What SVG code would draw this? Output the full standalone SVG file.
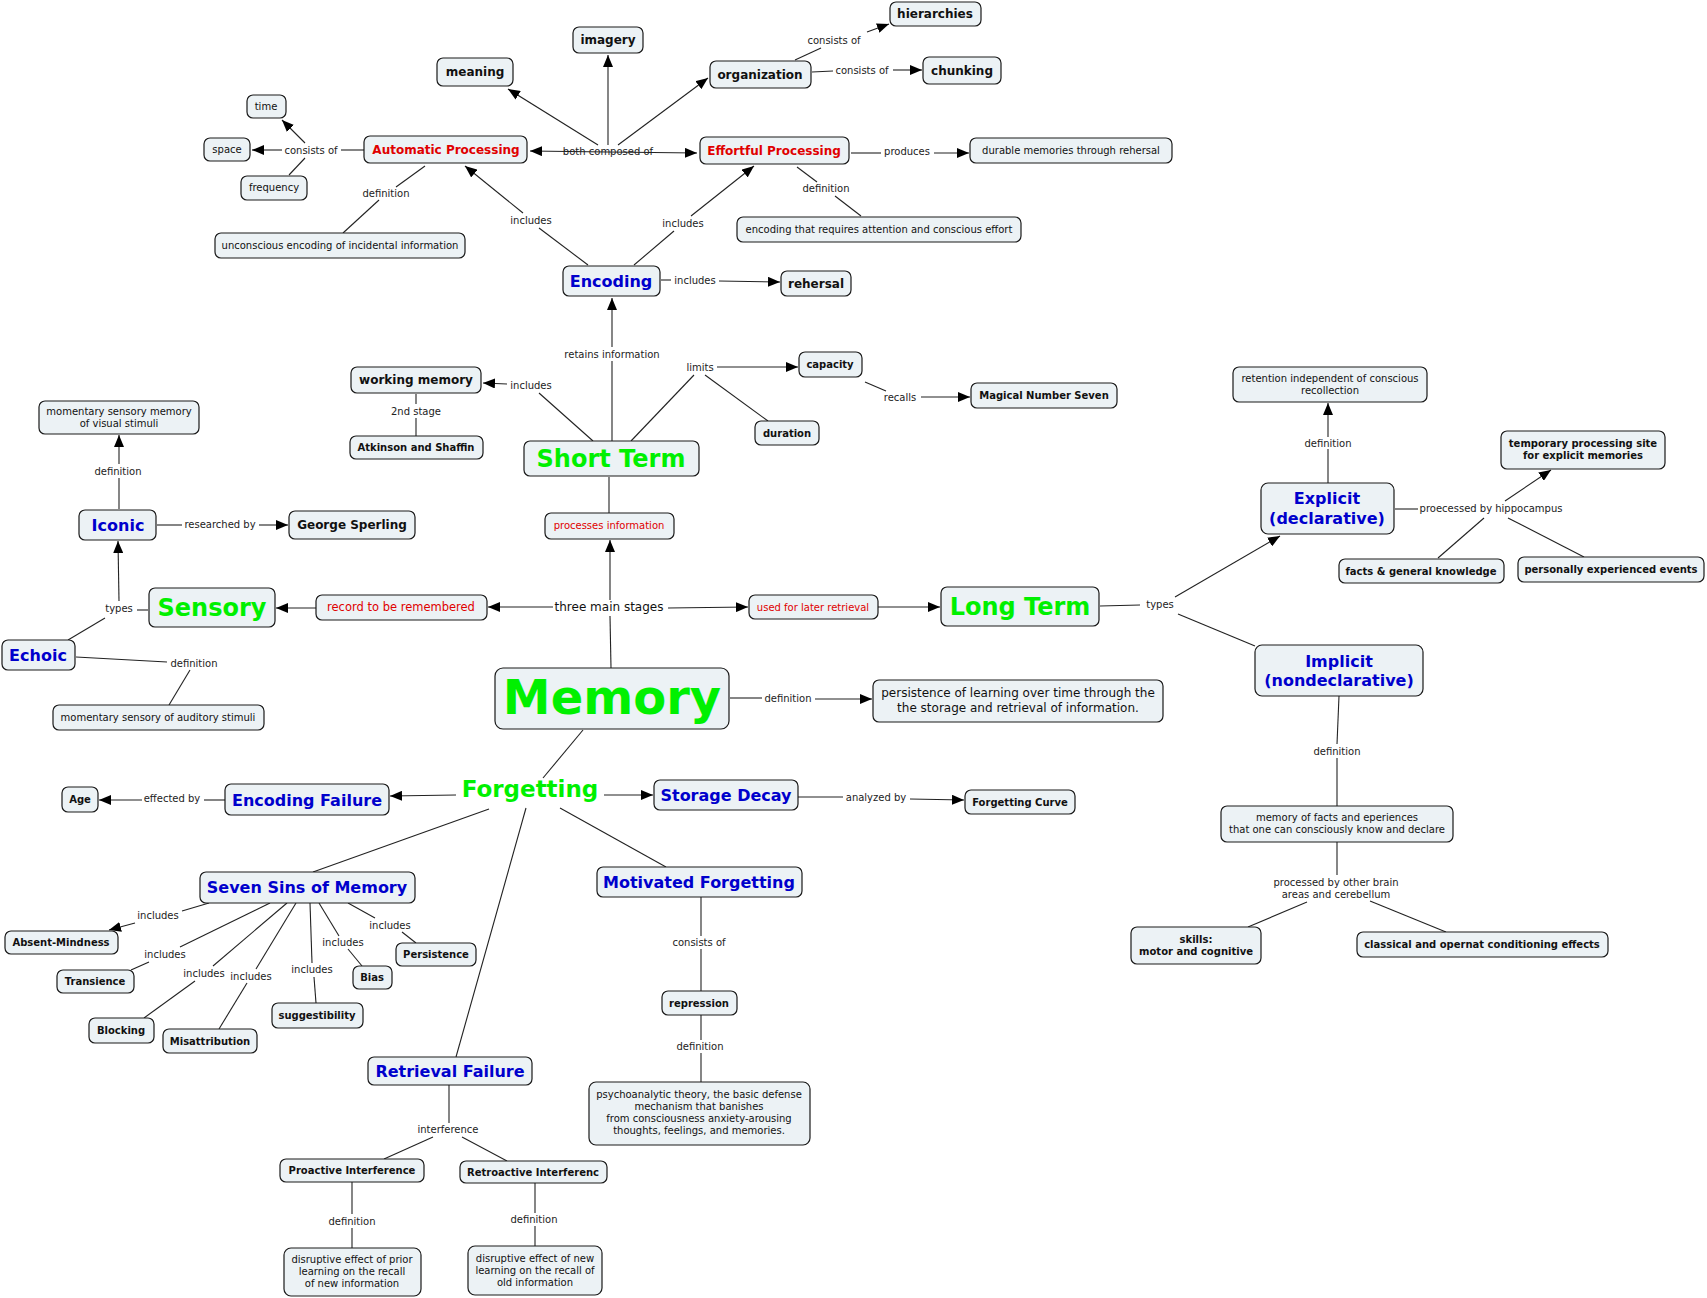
<svg xmlns="http://www.w3.org/2000/svg" width="1707" height="1298" viewBox="0 0 1707 1298">
<defs>
<marker id="a" viewBox="0 0 12 10" refX="12" refY="5" markerWidth="12" markerHeight="10" markerUnits="userSpaceOnUse" orient="auto-start-reverse"><path d="M0,0 L12,5 L0,10 z" fill="#000"/></marker>
<style>
text{font-family:"DejaVu Sans",Verdana,"Liberation Sans",sans-serif;text-anchor:middle;fill:#111}
.n rect{fill:#ecf2f5;stroke:#1a1a1a;stroke-width:1.2}
.t10{font-size:10px}
.t11{font-size:11px}
.t12{font-size:12px}
.b10{font-size:10px;font-weight:bold}
.b12{font-size:12px;font-weight:bold}
.r12{font-size:12px;font-weight:bold;fill:#e00000}
.r10{font-size:10px;fill:#e00000}
.r11{font-size:11.5px;fill:#e00000}
.bl{font-size:16px;font-weight:bold;fill:#0000cc}
.g24{font-size:24px;font-weight:bold;fill:#00f000}
.lbl{font-size:10px;fill:#222}
#c line,#c path{stroke:#222;stroke-width:1.1;fill:none}
.ar{marker-end:url(#a)}
</style>
</defs>
<rect width="1707" height="1298" fill="#fff"/>

<g id="c">
<!-- both composed of -->
<line x1="608" y1="152" x2="530" y2="151" class="ar"/>
<line x1="608" y1="152" x2="697" y2="153" class="ar"/>
<line x1="598" y1="145" x2="508" y2="89" class="ar"/>
<line x1="608" y1="145" x2="608" y2="55" class="ar"/>
<line x1="618" y1="145" x2="708" y2="78" class="ar"/>
<!-- AP consists of -->
<line x1="364" y1="150" x2="341" y2="150"/>
<line x1="305" y1="143" x2="282" y2="120" class="ar"/>
<line x1="282" y1="150" x2="252" y2="150" class="ar"/>
<line x1="305" y1="158" x2="289" y2="175"/>
<!-- AP definition -->
<line x1="425" y1="166" x2="396" y2="187"/>
<line x1="379" y1="200" x2="343" y2="233"/>
<!-- Encoding includes AP -->
<line x1="588" y1="265" x2="539" y2="228"/>
<line x1="523" y1="213" x2="465" y2="166" class="ar"/>
<!-- Encoding includes EP -->
<line x1="634" y1="265" x2="674" y2="231"/>
<line x1="691" y1="216" x2="754" y2="166" class="ar"/>
<!-- EP produces -->
<line x1="851" y1="153" x2="881" y2="153"/>
<line x1="934" y1="153" x2="969" y2="153" class="ar"/>
<!-- EP definition -->
<line x1="797" y1="167" x2="817" y2="182"/>
<line x1="835" y1="196" x2="861" y2="216"/>
<!-- organization -->
<line x1="795" y1="60" x2="821" y2="48"/>
<line x1="867" y1="32" x2="889" y2="24" class="ar"/>
<line x1="812" y1="72" x2="833" y2="71"/>
<line x1="893" y1="70" x2="922" y2="70" class="ar"/>
<!-- Encoding includes rehersal -->
<line x1="661" y1="280" x2="671" y2="280"/>
<line x1="719" y1="281" x2="780" y2="282" class="ar"/>
<!-- ST retains information -->
<line x1="612" y1="441" x2="612" y2="361"/>
<line x1="612" y1="347" x2="612" y2="298" class="ar"/>
<!-- ST includes working memory -->
<line x1="593" y1="441" x2="539" y2="393"/>
<line x1="507" y1="384" x2="483" y2="383" class="ar"/>
<!-- 2nd stage -->
<line x1="416" y1="394" x2="416" y2="404"/>
<line x1="416" y1="418" x2="416" y2="436"/>
<!-- limits -->
<line x1="631" y1="441" x2="694" y2="375"/>
<line x1="717" y1="367" x2="798" y2="367" class="ar"/>
<line x1="705" y1="375" x2="768" y2="421"/>
<!-- recalls -->
<line x1="865" y1="382" x2="886" y2="391"/>
<line x1="921" y1="397" x2="970" y2="397" class="ar"/>
<!-- ST processes -->
<line x1="609" y1="477" x2="609" y2="513"/>
<line x1="610" y1="600" x2="610" y2="540" class="ar"/>
<line x1="611" y1="668" x2="610" y2="616"/>
<line x1="553" y1="607" x2="488" y2="607" class="ar"/>
<line x1="316" y1="608" x2="276" y2="608" class="ar"/>
<line x1="668" y1="608" x2="748" y2="607" class="ar"/>
<line x1="878" y1="607" x2="940" y2="607" class="ar"/>
<!-- Sensory types -->
<line x1="148" y1="610" x2="137" y2="610"/>
<line x1="119" y1="601" x2="118" y2="541" class="ar"/>
<line x1="105" y1="618" x2="68" y2="640"/>
<!-- Iconic -->
<line x1="119" y1="509" x2="119" y2="478"/>
<line x1="119" y1="464" x2="119" y2="435" class="ar"/>
<line x1="157" y1="525" x2="182" y2="525"/>
<line x1="259" y1="525" x2="288" y2="525" class="ar"/>
<!-- Echoic definition -->
<line x1="76" y1="657" x2="167" y2="662"/>
<line x1="190" y1="670" x2="169" y2="705"/>
<!-- Memory definition -->
<line x1="730" y1="698" x2="762" y2="698"/>
<line x1="815" y1="699" x2="872" y2="699" class="ar"/>
<!-- LT types -->
<line x1="1100" y1="606" x2="1140" y2="605"/>
<line x1="1175" y1="597" x2="1280" y2="536" class="ar"/>
<line x1="1178" y1="614" x2="1255" y2="646"/>
<!-- Explicit definition -->
<line x1="1328" y1="483" x2="1328" y2="449"/>
<line x1="1328" y1="437" x2="1328" y2="403" class="ar"/>
<!-- hippocampus -->
<line x1="1395" y1="509" x2="1418" y2="509"/>
<line x1="1505" y1="501" x2="1551" y2="470" class="ar"/>
<line x1="1484" y1="518" x2="1438" y2="558"/>
<line x1="1508" y1="518" x2="1584" y2="557"/>
<!-- Implicit -->
<line x1="1339" y1="696" x2="1337" y2="744"/>
<line x1="1337" y1="758" x2="1337" y2="806"/>
<line x1="1337" y1="842" x2="1337" y2="875"/>
<line x1="1307" y1="902" x2="1248" y2="927"/>
<line x1="1370" y1="901" x2="1446" y2="932"/>
<!-- Forgetting -->
<line x1="583" y1="730" x2="543" y2="778"/>
<line x1="456" y1="795" x2="390" y2="796" class="ar"/>
<line x1="225" y1="800" x2="204" y2="800"/>
<line x1="142" y1="800" x2="99" y2="800" class="ar"/>
<line x1="604" y1="795" x2="653" y2="795" class="ar"/>
<line x1="798" y1="797" x2="843" y2="797"/>
<line x1="910" y1="799" x2="964" y2="800" class="ar"/>
<line x1="489" y1="809" x2="313" y2="872"/>
<line x1="526" y1="808" x2="456" y2="1057"/>
<line x1="560" y1="808" x2="666" y2="867"/>
<!-- Seven sins -->
<line x1="209" y1="903" x2="182" y2="911"/>
<line x1="135" y1="923" x2="109" y2="930" class="ar"/>
<line x1="270" y1="903" x2="180" y2="947"/>
<line x1="149" y1="962" x2="131" y2="970"/>
<line x1="287" y1="903" x2="213" y2="966"/>
<line x1="195" y1="981" x2="144" y2="1018"/>
<line x1="296" y1="903" x2="256" y2="969"/>
<line x1="247" y1="983" x2="219" y2="1029"/>
<line x1="310" y1="903" x2="312" y2="963"/>
<line x1="314" y1="977" x2="316" y2="1003"/>
<line x1="319" y1="903" x2="339" y2="936"/>
<line x1="348" y1="949" x2="362" y2="966"/>
<line x1="348" y1="903" x2="375" y2="918"/>
<line x1="402" y1="932" x2="416" y2="943"/>
<!-- Motivated -->
<line x1="701" y1="897" x2="701" y2="936"/>
<line x1="701" y1="949" x2="701" y2="991"/>
<line x1="701" y1="1015" x2="701" y2="1040"/>
<line x1="701" y1="1053" x2="701" y2="1082"/>
<!-- Retrieval failure -->
<line x1="449" y1="1085" x2="449" y2="1123"/>
<line x1="433" y1="1137" x2="384" y2="1159"/>
<line x1="462" y1="1137" x2="507" y2="1161"/>
<line x1="352" y1="1182" x2="352" y2="1214"/>
<line x1="352" y1="1228" x2="352" y2="1248"/>
<line x1="535" y1="1183" x2="535" y2="1213"/>
<line x1="535" y1="1226" x2="535" y2="1246"/>
</g>

<g id="labels">
<text class="lbl" x="608" y="155">both composed of</text>
<text class="lbl" x="311" y="154">consists of</text>
<text class="lbl" x="386" y="197">definition</text>
<text class="lbl" x="531" y="224">includes</text>
<text class="lbl" x="683" y="227">includes</text>
<text class="lbl" x="907" y="155">produces</text>
<text class="lbl" x="826" y="192">definition</text>
<text class="lbl" x="834" y="44">consists of</text>
<text class="lbl" x="862" y="74">consists of</text>
<text class="lbl" x="695" y="284">includes</text>
<text class="lbl" x="612" y="358">retains information</text>
<text class="lbl" x="531" y="389">includes</text>
<text class="lbl" x="416" y="415">2nd stage</text>
<text class="lbl" x="700" y="371">limits</text>
<text class="lbl" x="900" y="401">recalls</text>
<text class="t12" x="609" y="611">three main stages</text>
<text class="lbl" x="119" y="612">types</text>
<text class="lbl" x="118" y="475">definition</text>
<text class="lbl" x="220" y="528">researched by</text>
<text class="lbl" x="194" y="667">definition</text>
<text class="lbl" x="788" y="702">definition</text>
<text class="lbl" x="1160" y="608">types</text>
<text class="lbl" x="1328" y="447">definition</text>
<text class="lbl" x="1491" y="512">proecessed by hippocampus</text>
<text class="lbl" x="1337" y="755">definition</text>
<text class="lbl" x="1336" y="886">processed by other brain</text>
<text class="lbl" x="1336" y="898">areas and cerebellum</text>
<text class="lbl" x="172" y="802">effected by</text>
<text class="lbl" x="876" y="801">analyzed by</text>
<text class="lbl" x="158" y="919">includes</text>
<text class="lbl" x="165" y="958">includes</text>
<text class="lbl" x="204" y="977">includes</text>
<text class="lbl" x="251" y="980">includes</text>
<text class="lbl" x="312" y="973">includes</text>
<text class="lbl" x="343" y="946">includes</text>
<text class="lbl" x="390" y="929">includes</text>
<text class="lbl" x="699" y="946">consists of</text>
<text class="lbl" x="700" y="1050">definition</text>
<text class="lbl" x="448" y="1133">interference</text>
<text class="lbl" x="352" y="1225">definition</text>
<text class="lbl" x="534" y="1223">definition</text>
</g>

<g id="meaning" class="n"><rect x="437" y="58" width="76" height="28" rx="6"/><text class="b12" x="475" y="76">meaning</text></g>
<g id="imagery" class="n"><rect x="573" y="27" width="70" height="26" rx="6"/><text class="b12" x="608" y="44">imagery</text></g>
<g id="organization" class="n"><rect x="710" y="61" width="101" height="27" rx="6"/><text class="b12" x="760" y="79">organization</text></g>
<g id="hierarchies" class="n"><rect x="890" y="2" width="91" height="24" rx="6"/><text class="b12" x="935" y="18">hierarchies</text></g>
<g id="chunking" class="n"><rect x="923" y="57" width="78" height="27" rx="6"/><text class="b12" x="962" y="75">chunking</text></g>
<g id="time" class="n"><rect x="247" y="95" width="39" height="23" rx="6"/><text class="t10" x="266" y="110">time</text></g>
<g id="space" class="n"><rect x="204" y="138" width="46" height="23" rx="6"/><text class="t10" x="227" y="153">space</text></g>
<g id="frequency" class="n"><rect x="241" y="176" width="66" height="24" rx="6"/><text class="t10" x="274" y="191">frequency</text></g>
<g id="automatic" class="n"><rect x="364" y="136" width="163" height="27" rx="6"/><text class="r12" x="446" y="154">Automatic Processing</text></g>
<g id="effortful" class="n"><rect x="700" y="137" width="149" height="27" rx="6"/><text class="r12" x="774" y="155">Effortful Processing</text></g>
<g id="durable" class="n"><rect x="970" y="138" width="202" height="25" rx="6"/><text class="t10" x="1071" y="154">durable memories through rehersal</text></g>
<g id="unconscious" class="n"><rect x="215" y="233" width="250" height="25" rx="6"/><text class="t10" x="340" y="249">unconscious encoding of incidental information</text></g>
<g id="requires" class="n"><rect x="737" y="217" width="284" height="25" rx="6"/><text class="t10" x="879" y="233">encoding that requires attention and conscious effort</text></g>
<g id="encoding" class="n"><rect x="563" y="266" width="97" height="30" rx="6"/><text class="bl" x="611" y="287">Encoding</text></g>
<g id="rehersal" class="n"><rect x="781" y="271" width="70" height="25" rx="6"/><text class="b12" x="816" y="288">rehersal</text></g>
<g id="working" class="n"><rect x="351" y="367" width="130" height="26" rx="6"/><text class="b12" x="416" y="384">working memory</text></g>
<g id="atkinson" class="n"><rect x="350" y="436" width="133" height="23" rx="6"/><text class="b10" x="416" y="451">Atkinson and Shaffin</text></g>
<g id="capacity" class="n"><rect x="799" y="352" width="63" height="25" rx="6"/><text class="b10" x="830" y="368">capacity</text></g>
<g id="duration" class="n"><rect x="755" y="421" width="64" height="24" rx="6"/><text class="b10" x="787" y="437">duration</text></g>
<g id="magical" class="n"><rect x="971" y="383" width="146" height="25" rx="6"/><text class="b10" x="1044" y="399">Magical Number Seven</text></g>
<g id="shortterm" class="n"><rect x="524" y="441" width="175" height="35" rx="6"/><text class="g24" x="611" y="467">Short Term</text></g>
<g id="processes" class="n"><rect x="545" y="513" width="129" height="26" rx="6"/><text class="r10" x="609" y="529">processes information</text></g>
<g id="visual" class="n"><rect x="39" y="401" width="160" height="33" rx="6"/><text class="t10" x="119" y="415">momentary sensory memory</text><text class="t10" x="119" y="427">of visual stimuli</text></g>
<g id="iconic" class="n"><rect x="79" y="510" width="77" height="30" rx="6"/><text class="bl" x="118" y="531">Iconic</text></g>
<g id="sperling" class="n"><rect x="289" y="511" width="126" height="28" rx="6"/><text class="b12" x="352" y="529">George Sperling</text></g>
<g id="sensory" class="n"><rect x="149" y="588" width="126" height="39" rx="6"/><text class="g24" x="212" y="616">Sensory</text></g>
<g id="record" class="n"><rect x="316" y="595" width="171" height="25" rx="6"/><text class="r11" x="401" y="611">record to be remembered</text></g>
<g id="echoic" class="n"><rect x="2" y="640" width="73" height="30" rx="6"/><text class="bl" x="38" y="661">Echoic</text></g>
<g id="auditory" class="n"><rect x="53" y="705" width="211" height="25" rx="6"/><text class="t10" x="158" y="721">momentary sensory of auditory stimuli</text></g>
<g id="memory" class="n"><rect x="495" y="668" width="234" height="61" rx="8"/><text x="612" y="714" style="font-size:48px;font-weight:bold;fill:#00f000">Memory</text></g>
<g id="persistence" class="n"><rect x="873" y="680" width="290" height="42" rx="6"/><text class="t12" x="1018" y="697">persistence of learning over time through the</text><text class="t12" x="1018" y="712">the storage and retrieval of information.</text></g>
<g id="used" class="n"><rect x="749" y="595" width="129" height="24" rx="6"/><text class="r10" x="813" y="611">used for later retrieval</text></g>
<g id="longterm" class="n"><rect x="941" y="587" width="158" height="39" rx="6"/><text class="g24" x="1020" y="615">Long Term</text></g>
<g id="retention" class="n"><rect x="1233" y="367" width="194" height="35" rx="6"/><text class="t10" x="1330" y="382">retention independent of conscious</text><text class="t10" x="1330" y="394">recollection</text></g>
<g id="explicit" class="n"><rect x="1261" y="483" width="133" height="51" rx="7"/><text class="bl" x="1327" y="504">Explicit</text><text class="bl" x="1327" y="524">(declarative)</text></g>
<g id="temporary" class="n"><rect x="1501" y="431" width="164" height="38" rx="6"/><text class="b10" x="1583" y="447">temporary processing site</text><text class="b10" x="1583" y="459">for explicit memories</text></g>
<g id="facts" class="n"><rect x="1339" y="559" width="165" height="24" rx="6"/><text class="b10" x="1421" y="575">facts &amp; general knowledge</text></g>
<g id="personally" class="n"><rect x="1518" y="557" width="186" height="25" rx="6"/><text class="b10" x="1611" y="573">personally experienced events</text></g>
<g id="implicit" class="n"><rect x="1255" y="645" width="168" height="51" rx="7"/><text class="bl" x="1339" y="667">Implicit</text><text class="bl" x="1339" y="686">(nondeclarative)</text></g>
<g id="factsdef" class="n"><rect x="1221" y="806" width="232" height="36" rx="6"/><text class="t10" x="1337" y="821">memory of facts and eperiences</text><text class="t10" x="1337" y="833">that one can consciously know and declare</text></g>
<g id="skills" class="n"><rect x="1131" y="927" width="130" height="37" rx="6"/><text class="b10" x="1196" y="943">skills:</text><text class="b10" x="1196" y="955">motor and cognitive</text></g>
<g id="classical" class="n"><rect x="1357" y="932" width="251" height="25" rx="6"/><text class="b10" x="1482" y="948">classical and opernat conditioning effects</text></g>
<g id="forgetting"><text x="530" y="797" style="font-size:23px;font-weight:bold;fill:#00f000">Forgetting</text></g>
<g id="age" class="n"><rect x="62" y="787" width="36" height="25" rx="6"/><text class="b10" x="80" y="803">Age</text></g>
<g id="encfail" class="n"><rect x="225" y="784" width="164" height="31" rx="6"/><text class="bl" x="307" y="806">Encoding Failure</text></g>
<g id="decay" class="n"><rect x="654" y="780" width="144" height="30" rx="6"/><text class="bl" x="726" y="801">Storage Decay</text></g>
<g id="curve" class="n"><rect x="965" y="790" width="110" height="24" rx="6"/><text class="b10" x="1020" y="806">Forgetting Curve</text></g>
<g id="sevensins" class="n"><rect x="200" y="872" width="215" height="31" rx="6"/><text class="bl" x="307" y="893">Seven Sins of Memory</text></g>
<g id="absent" class="n"><rect x="5" y="931" width="113" height="23" rx="6"/><text class="b10" x="61" y="946">Absent-Mindness</text></g>
<g id="transience" class="n"><rect x="57" y="970" width="77" height="23" rx="6"/><text class="b10" x="95" y="985">Transience</text></g>
<g id="blocking" class="n"><rect x="89" y="1018" width="65" height="25" rx="6"/><text class="b10" x="121" y="1034">Blocking</text></g>
<g id="misattribution" class="n"><rect x="163" y="1029" width="94" height="24" rx="6"/><text class="b10" x="210" y="1045">Misattribution</text></g>
<g id="suggestibility" class="n"><rect x="272" y="1003" width="91" height="25" rx="6"/><text class="b10" x="317" y="1019">suggestibility</text></g>
<g id="bias" class="n"><rect x="353" y="966" width="39" height="23" rx="6"/><text class="b10" x="372" y="981">Bias</text></g>
<g id="persistencesin" class="n"><rect x="396" y="943" width="80" height="23" rx="6"/><text class="b10" x="436" y="958">Persistence</text></g>
<g id="motivated" class="n"><rect x="597" y="867" width="205" height="30" rx="6"/><text class="bl" x="699" y="888">Motivated Forgetting</text></g>
<g id="repression" class="n"><rect x="662" y="991" width="75" height="24" rx="6"/><text class="b10" x="699" y="1007">repression</text></g>
<g id="psycho" class="n"><rect x="589" y="1082" width="221" height="63" rx="7"/><text class="t10" x="699" y="1098">psychoanalytic theory, the basic defense</text><text class="t10" x="699" y="1110">mechanism that banishes</text><text class="t10" x="699" y="1122">from consciousness anxiety-arousing</text><text class="t10" x="699" y="1134">thoughts, feelings, and memories.</text></g>
<g id="retrieval" class="n"><rect x="368" y="1057" width="164" height="28" rx="6"/><text class="bl" x="450" y="1077">Retrieval Failure</text></g>
<g id="proactive" class="n"><rect x="280" y="1159" width="144" height="23" rx="6"/><text class="b10" x="352" y="1174">Proactive Interference</text></g>
<g id="retroactive" class="n"><rect x="460" y="1161" width="147" height="22" rx="6"/><text class="b10" x="533" y="1176">Retroactive Interferenc</text></g>
<g id="prior" class="n"><rect x="284" y="1248" width="137" height="48" rx="7"/><text class="t10" x="352" y="1263">disruptive effect of prior</text><text class="t10" x="352" y="1275">learning on the recall</text><text class="t10" x="352" y="1287">of new information</text></g>
<g id="newinfo" class="n"><rect x="468" y="1246" width="134" height="49" rx="7"/><text class="t10" x="535" y="1262">disruptive effect of new</text><text class="t10" x="535" y="1274">learning on the recall of</text><text class="t10" x="535" y="1286">old information</text></g>
</svg>
